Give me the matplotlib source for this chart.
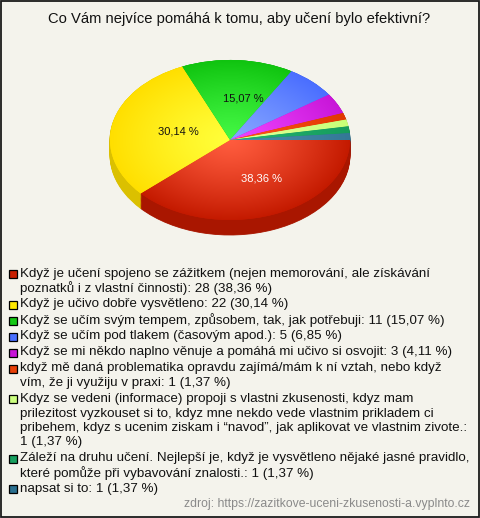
import numpy as np
import matplotlib
matplotlib.use("Agg")
import matplotlib.pyplot as plt
from matplotlib.patches import Rectangle
from matplotlib.colors import to_rgb

plt.rcParams['font.family'] = ['Liberation Sans', 'DejaVu Sans']

title = "Co Vám nejvíce pomáhá k tomu, aby učení bylo efektivní?"
categories = [
    "Když je učení spojeno se zážitkem (nejen memorování, ale získávání\npoznatků i z vlastní činnosti)",
    "Když je učivo dobře vysvětleno",
    "Když se učím svým tempem, způsobem, tak, jak potřebuji",
    "Když se učím pod tlakem (časovým apod.)",
    "Když se mi někdo naplno věnuje a pomáhá mi učivo si osvojit",
    "když mě daná problematika opravdu zajímá/mám k ní vztah, nebo když\nvím, že ji využiju v praxi",
    "Kdyz se vedeni (informace) propoji s vlastni zkusenosti, kdyz mam\nprilezitost vyzkouset si to, kdyz mne nekdo vede vlastnim prikladem ci\npribehem, kdyz s ucenim ziskam i “navod”, jak aplikovat ve vlastnim zivote.",
    "Záleží na druhu učení. Nejlepší je, když je vysvětleno nějaké jasné pravidlo,\nkteré pomůže při vybavování znalosti.",
    "napsat si to",
]
counts = [28, 22, 11, 5, 3, 1, 1, 1, 1]
separators = [": ", ": ", ": ", ": ", ": ", ": ", ":\n", ": ", ": "]
source = "zdroj: https://zazitkove-uceni-zkusenosti-a.vyplnto.cz"

# styles
legend_colors = ["#C81E00", "#FFE800", "#14C814", "#4A70FF", "#C814D8",
                 "#E84008", "#CCFF80", "#18A060", "#2A7090"]
center_colors = ["#FF5C3E", "#FFFF3A", "#44F844", "#86A6FF", "#EE44FF",
                 "#FF5418", "#E0FF98", "#22B272", "#4A8CAE"]
rim_colors = ["#C41A00", "#FFDF00", "#10C410", "#4A6EFF", "#C816D8",
              "#E03800", "#C8FF78", "#169C5C", "#347896"]
bg = "#F4F3EC"

total = sum(counts)
pcts = [100.0 * c / total for c in counts]

def fmt_pct(p):
    return f"{p:.2f}".replace('.', ',') + " %"

fig = plt.figure(figsize=(4.8, 5.18), dpi=100, facecolor=bg)
W, H = 480, 518

# overlay axes in pixel coordinates
ax0 = fig.add_axes([0, 0, 1, 1])
ax0.set_xlim(0, W)
ax0.set_ylim(H, 0)
ax0.axis('off')
ax0.add_patch(Rectangle((0.75, 0.75), W - 1.5, H - 1.5, fill=False,
                        edgecolor="#1a1a1a", linewidth=1.3))
ax0.text(239, 19, title, ha='center', va='center', fontsize=10.6, color='#111111')

y = 274
line_step = 14.5
for cat, sep, cnt, p, col in zip(categories, separators, counts, pcts, legend_colors):
    label = f"{cat}{sep}{cnt} ({fmt_pct(p)})"
    lines = label.split("\n")
    ax0.add_patch(Rectangle((8.5, y - 4), 8, 8, facecolor=col, edgecolor='black', linewidth=0.9))
    for i, ln in enumerate(lines):
        ax0.text(20.5, y + i * line_step, ln, ha='left', va='center', fontsize=9.6, color='#111111')
    y += len(lines) * line_step + 1.5

ax0.text(470, 504, source, ha='right', va='center', fontsize=8.8, color='#8a8a8a')

# pie axes
depth = 15 / 80.0
axp = fig.add_axes([110 / W, (H - 235) / H, 240 / W, 175 / H])

def darken(c, f):
    r, g, b = to_rgb(c)
    return (r * f, g * f, b * f)

side_colors = [darken(c, 0.86) for c in rim_colors]
for k in np.linspace(depth, 0.005, 18):
    axp.pie(counts, startangle=0, counterclock=False, colors=side_colors,
            center=(0, -k), wedgeprops=dict(linewidth=0.6, edgecolor=None))
    for w in axp.patches[-len(counts):]:
        w.set_edgecolor(w.get_facecolor())

autotexts_labels = [fmt_pct(p) if p > 10 else "" for p in pcts]
wedges, _ = axp.pie(counts, startangle=0, counterclock=False, colors=rim_colors,
                    wedgeprops=dict(linewidth=0))

N = 300
gx, gy = np.meshgrid(np.linspace(-1, 1, N), np.linspace(-1, 1, N))
r = np.clip(np.sqrt(gx ** 2 + gy ** 2), 0, 1)
t = r[..., None] ** 1.2
for w, cc, rc in zip(wedges, center_colors, rim_colors):
    c0 = np.array(to_rgb(cc))
    c1 = np.array(to_rgb(rc))
    img = c0 * (1 - t) + c1 * t
    im = axp.imshow(img, extent=(-1, 1, -1, 1), origin='lower', aspect='auto',
                    interpolation='bilinear', zorder=2)
    im.set_clip_path(w)

# percentage labels
theta = 0.0
for p, lab, i in zip(pcts, autotexts_labels, range(len(pcts))):
    mid = theta - p / 100 * 360 / 2
    theta -= p / 100 * 360
    if lab:
        rr = 0.52
        xx = rr * np.cos(np.deg2rad(mid)) + 0.075
        yy = rr * np.sin(np.deg2rad(mid))
        axp.text(xx, yy, lab, ha='center', va='center', fontsize=8,
                 color='white' if i == 0 else '#111111', zorder=5)

axp.set_aspect('auto')
axp.set_xlim(-1, 1)
axp.set_ylim(-1 - depth, 1)
axp.axis('off')

fig.savefig("out.png", dpi=100, facecolor=bg)
